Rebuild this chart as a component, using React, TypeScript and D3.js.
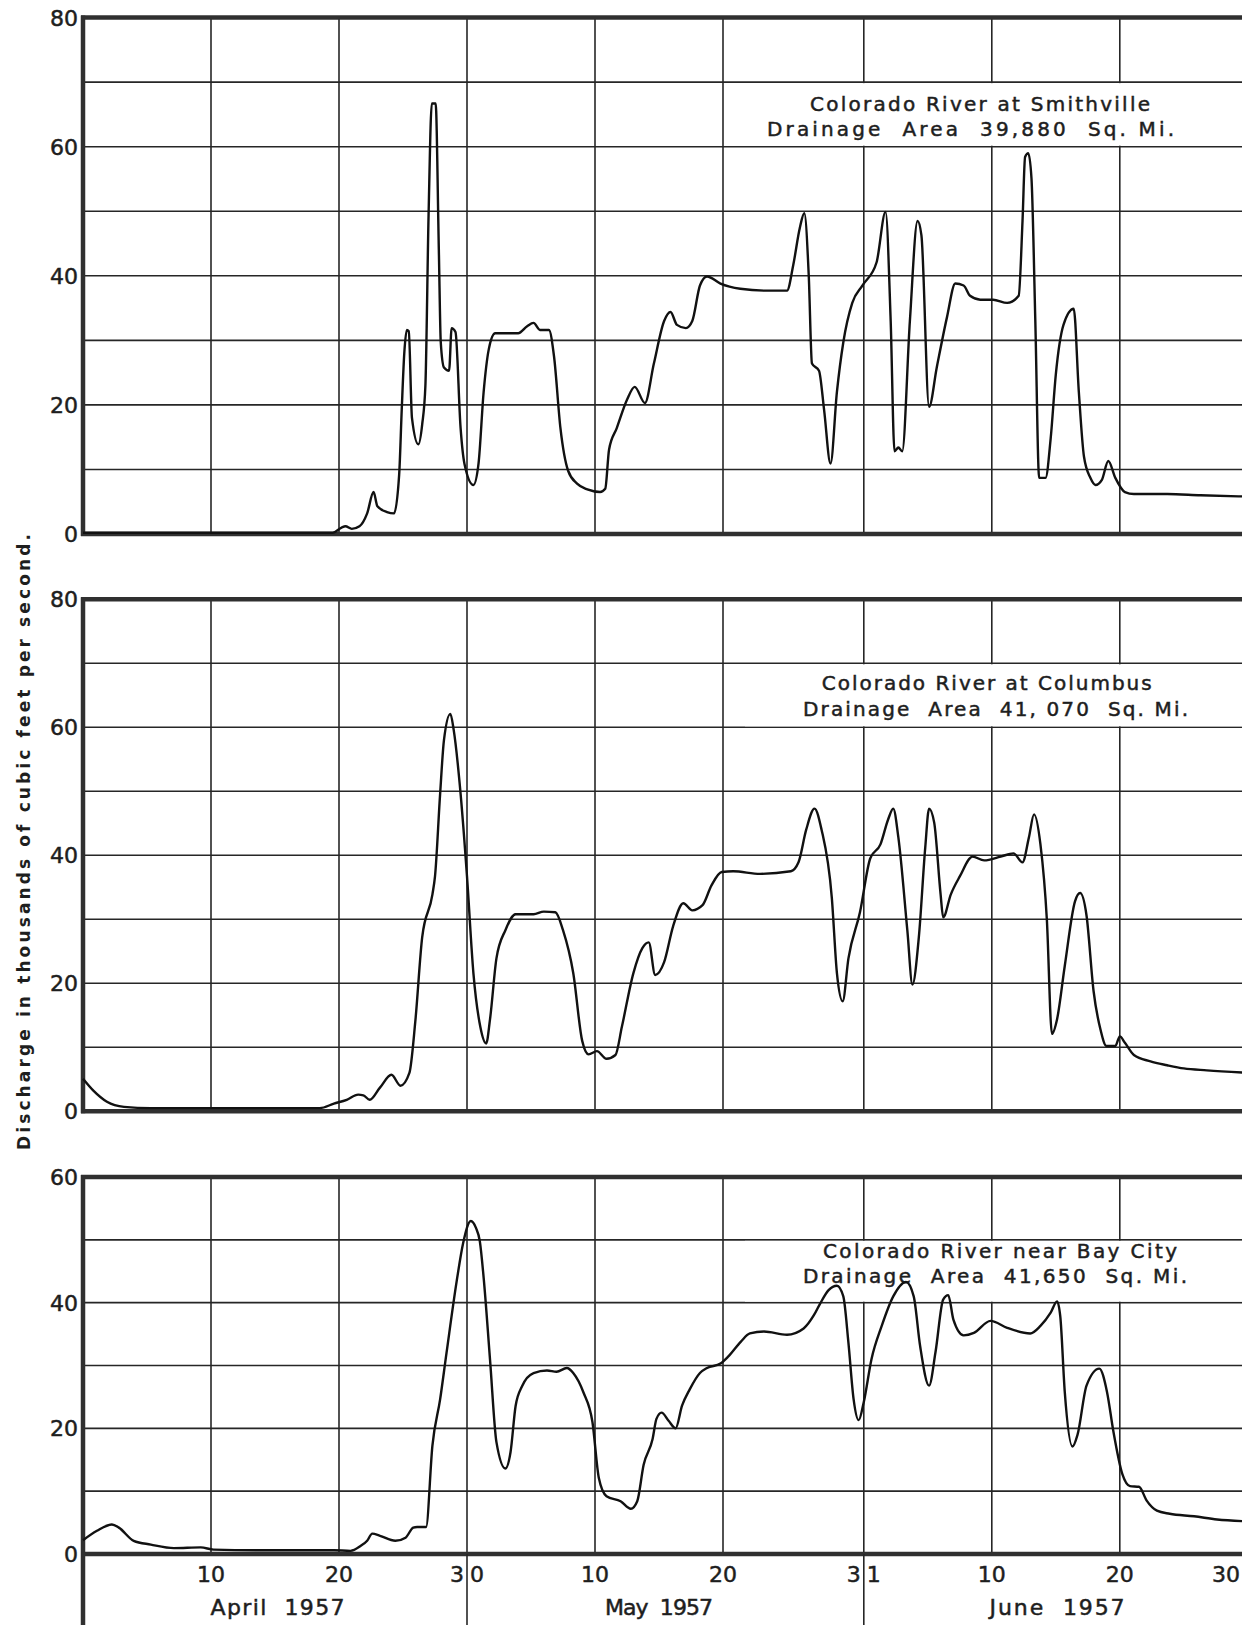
import React from "react";
import * as d3 from "d3";

// ---- Data (day index: April 1 = 1, May 1 = 31, June 1 = 62) ----
const smithvilleDays = [0, 5, 10, 15, 19.5, 20.2, 20.5, 21, 21.6, 22.2, 22.7, 23, 23.75, 24.3, 24.7, 24.9, 25.1, 25.3, 25.45, 25.7, 26.2, 26.5, 26.75, 27.0, 27.25, 27.55, 27.8, 27.95, 28.2, 28.6, 28.8, 29.1, 29.5, 29.8, 30.5, 30.9, 31.3, 31.7, 32.2, 34.0, 34.7, 35.2, 35.7, 36.4, 36.8, 37.3, 37.9, 38.6, 39.4, 40.4, 40.8, 41.1, 41.7, 42.5, 43.1, 43.9, 44.6, 45.4, 45.9, 46.4, 47.1, 47.6, 48.2, 48.75, 49.8, 51.35, 53.4, 55.0, 55.5, 56.0, 56.35, 56.7, 56.95, 57.5, 57.9, 58.4, 58.9, 59.4, 60.1, 60.9, 62.0, 62.7, 63.1, 63.4, 63.7, 64.0, 64.6, 65.2, 65.5, 66.1, 66.7, 67.5, 68.15, 68.8, 69.3, 70.1, 71.1, 72.2, 73.1, 73.4, 73.6, 73.85, 74.1, 74.4, 74.7, 75.2, 75.6, 76.0, 76.6, 77.4, 77.8, 78.2, 78.7, 79.1, 79.6, 80.1, 80.65, 81.4, 82.1, 84.7, 87.3, 91];
const smithvilleFlow = [0.2, 0.2, 0.2, 0.2, 0.2, 1.0, 1.2, 0.8, 1.2, 3.2, 6.5, 4.3, 3.4, 3.2, 9.2, 19.2, 28, 31.6, 31.4, 18, 13.9, 17, 23, 49.6, 66.7, 66.7, 44, 29.7, 25.8, 25.3, 31.9, 31.3, 16.4, 10.9, 7.6, 10.9, 22, 28.6, 31.1, 31.1, 32.2, 32.7, 31.6, 31.6, 27.5, 16.4, 9.8, 7.8, 6.9, 6.5, 7, 13.1, 16.4, 20.8, 22.8, 20.3, 26.4, 33, 34.4, 32.4, 31.9, 33, 38.5, 39.9, 38.8, 38, 37.7, 37.7, 41.8, 47.4, 49.7, 40, 26.4, 25.3, 19.2, 10.9, 22, 29.7, 35.8, 38.5, 42.1, 49.9, 33, 12.8, 13.4, 12.8, 33, 48.5, 46.3, 19.7, 25.8, 33.6, 38.8, 38.5, 36.9, 36.3, 36.3, 35.8, 36.9, 48.5, 58.4, 59, 55.1, 33, 8.7, 8.7, 14.8, 24.7, 32.4, 34.9, 22, 12, 8.7, 7.6, 8.4, 11.3, 8.7, 6.5, 6.2, 6.2, 6.0, 5.8];

const columbusDays = [0, 0.83, 1.87, 3.2, 5.3, 9.2, 14.4, 18.5, 19.6, 20.6, 21.5, 21.9, 22.4, 23.2, 24.1, 24.8, 25.5, 25.96, 26.5, 27.3, 27.5, 27.9, 28.2, 28.7, 28.96, 29.5, 30.0, 30.5, 31.04, 31.5, 31.8, 32.3, 33.0, 33.8, 35.2, 36.0, 36.9, 37.5, 38.3, 39.0, 39.5, 40.15, 40.9, 41.6, 42.1, 43.0, 43.7, 44.2, 44.7, 45.4, 46.1, 46.9, 47.6, 48.4, 49.1, 49.9, 50.8, 52.9, 55.3, 55.9, 56.5, 57.15, 57.7, 58.5, 58.9, 59.35, 59.8, 60.7, 61.5, 62.3, 62.9, 63.3, 63.7, 64.4, 64.8, 65.3, 65.8, 66.1, 66.5, 67.0, 67.2, 67.8, 68.5, 69.5, 70.4, 71.7, 72.7, 73.4, 73.9, 74.3, 74.8, 75.3, 75.7, 76.1, 76.7, 77.5, 77.9, 78.4, 78.95, 79.5, 79.95, 80.65, 81.0, 81.4, 82.1, 83.4, 84.7, 86, 87.8, 91];
const columbusFlow = [5.1, 3.2, 1.5, 0.7, 0.5, 0.5, 0.5, 0.5, 1.2, 1.8, 2.6, 2.5, 1.8, 3.7, 5.7, 4.0, 6.0, 14, 27.2, 33.9, 36.7, 49.6, 58, 62.1, 59.6, 49.6, 36.7, 21.6, 13.2, 10.6, 14.4, 23.9, 28.3, 30.8, 30.8, 31.2, 31.1, 28.3, 21.6, 11, 8.9, 9.4, 8.2, 8.8, 13.2, 21.6, 25.5, 26.4, 21.3, 23.3, 28.9, 32.5, 31.4, 32.2, 35.3, 37.4, 37.5, 37.1, 37.5, 38.9, 44, 47.3, 44, 33.4, 21.6, 17.2, 23.9, 31.1, 39.5, 41.7, 45.6, 47.3, 42.8, 28.3, 19.8, 27.2, 41.2, 47.3, 45.1, 33.9, 30.3, 33.9, 36.7, 39.8, 39.2, 39.8, 40.3, 38.9, 42.8, 46.4, 41.7, 30, 12.1, 14.4, 22.7, 32.8, 34.1, 30.6, 18.8, 12.7, 10.2, 10.2, 11.7, 10.7, 8.8, 7.8, 7.2, 6.7, 6.4, 6.0];

const bayCityDays = [0, 1.09, 2.26, 2.8, 3.96, 5.3, 7.1, 9.2, 10.2, 14.4, 19.6, 20.9, 21.7, 22.2, 22.6, 23.2, 24.4, 25.2, 25.8, 26.1, 26.8, 27.3, 27.9, 28.4, 29.2, 29.7, 30.3, 30.7, 31.0, 31.3, 31.8, 32.3, 33.0, 33.4, 33.8, 34.3, 35.2, 36.25, 37.0, 37.8, 38.3, 39.1, 39.8, 40.3, 40.9, 42.0, 42.8, 43.3, 43.8, 44.5, 44.8, 45.2, 45.75, 46.3, 46.8, 47.4, 48.2, 48.75, 49.8, 50.4, 51.4, 52.1, 53.2, 55.0, 56.3, 57.1, 57.6, 58.25, 58.9, 59.4, 59.8, 60.2, 60.6, 61.0, 61.6, 62.4, 63.3, 64.3, 64.9, 65.4, 66.1, 66.6, 67.2, 67.6, 68.0, 68.8, 69.6, 70.9, 72.2, 74.0, 74.8, 75.6, 76.1, 76.35, 76.7, 77.3, 77.7, 78.4, 79.4, 80.0, 80.5, 81.2, 81.8, 82.5, 83.1, 83.9, 84.9, 86.8, 88.6, 91];
const bayCityFlow = [2.2, 3.7, 4.7, 4.2, 2.1, 1.5, 0.94, 1.05, 0.7, 0.6, 0.6, 0.5, 1.3, 2.1, 3.25, 2.9, 2.1, 2.6, 4.2, 4.3, 4.3, 17.3, 24.6, 32, 43.5, 49.5, 53, 51.9, 49.8, 44, 30.9, 17.8, 13.6, 16.2, 23.6, 26.7, 28.8, 29.2, 29, 29.6, 28.8, 25.7, 21, 12.1, 9.2, 8.4, 7.2, 8.4, 14.2, 18.3, 21.5, 22.5, 21.2, 20, 23.6, 26.2, 28.8, 29.6, 30.3, 31.4, 33.8, 35.1, 35.4, 34.9, 35.9, 38, 39.9, 42, 42.7, 41, 33.6, 24.7, 21.3, 24.2, 31, 36.3, 41, 43.3, 41, 33.1, 26.8, 32.1, 40.5, 41.2, 37.3, 34.8, 35.2, 37.1, 36, 35.1, 36.3, 38.4, 40.2, 37.8, 25.8, 17.1, 19, 26.8, 29.5, 25.8, 19.5, 12.7, 10.8, 10.7, 8.5, 6.9, 6.4, 6.0, 5.5, 5.2];

const dayGridLines = [10, 20, 30, 40, 50, 61, 71, 81, 91];
const dayTickLabels = ["10", "20", "30", "10", "20", "31", "10", "20", "30"];
const dayTickLabelDays = [10, 20, 30, 40, 50, 61, 71, 81, 89.3];
const monthBoundaryDays = [30, 61, 91];
const monthNames = ["April  1957", "May  1957", "June  1957"];
const monthLabelDays = [15.2, 45, 76.1];
const monthLabelWidths = [134, 108, 135];

const yTicks80 = [0, 20, 40, 60, 80];
const yTicks60 = [0, 20, 40, 60];

const titles1 = ["Colorado River at Smithville", "Drainage  Area  39,880  Sq. Mi."];
const titles2 = ["Colorado River at Columbus", "Drainage  Area  41, 070  Sq. Mi."];
const titles3 = ["Colorado River near Bay City", "Drainage  Area  41,650  Sq. Mi."];

const yTitle = "Discharge in thousands of cubic feet per second.";

// ---- Layout ----
const W = 1242;
const H = 1625;
const FONT = "'DejaVu Sans', 'Liberation Sans', sans-serif";
const x = d3.scaleLinear().domain([0, 91]).range([83, 83 + 91 * 12.8]);

type PanelDef = {
  days: number[];
  flow: number[];
  yMax: number;
  top: number;
  bottom: number;
  ticks: number[];
  titles: string[];
  titleBox: [number, number];
  titleLines: { x: number; len: number; y: number }[];
};

const panels: PanelDef[] = [
  {
    days: smithvilleDays, flow: smithvilleFlow, yMax: 80, top: 17.6, bottom: 534, ticks: yTicks80,
    titles: titles1, titleBox: [70, 60],
    titleLines: [{ x: 810, len: 340, y: 110.5 }, { x: 767, len: 407, y: 135.5 }],
  },
  {
    days: columbusDays, flow: columbusFlow, yMax: 80, top: 599.3, bottom: 1111.3, ticks: yTicks80,
    titles: titles2, titleBox: [70, 60],
    titleLines: [{ x: 821.7, len: 330, y: 690 }, { x: 803, len: 385, y: 715.5 }],
  },
  {
    days: bayCityDays, flow: bayCityFlow, yMax: 60, top: 1177, bottom: 1554, ticks: yTicks60,
    titles: titles3, titleBox: [50, 40],
    titleLines: [{ x: 823, len: 354, y: 1258 }, { x: 803, len: 384, y: 1283 }],
  },
];

const GRID = "#262626";
const FRAME = "#303030";
const INK = "#1e1e1e";

function Panel({ p, isLast }: { p: PanelDef; isLast: boolean }) {
  const y = d3.scaleLinear().domain([0, p.yMax]).range([p.bottom, p.top]);
  const pts = p.days.map((d, i) => [d, p.flow[i]] as [number, number]);
  const line = d3
    .line<[number, number]>()
    .x((d) => x(d[0]))
    .y((d) => y(d[1]))
    .curve(d3.curveMonotoneX);
  const gridVals = d3.range(10, p.yMax, 10);
  const xL = x(0);
  const xR = W + 20;
  return (
    <g>
      {gridVals.map((v) => (
        <line key={"h" + v} x1={xL} x2={xR} y1={y(v)} y2={y(v)} stroke={GRID} strokeWidth={1.6} />
      ))}
      {dayGridLines.map((d) => (
        <line key={"v" + d} x1={x(d)} x2={x(d)} y1={y(p.yMax)} y2={y(0)} stroke={GRID} strokeWidth={1.6} />
      ))}
      <rect
        x={745}
        y={y(p.titleBox[0]) + 1}
        width={W - 745 + 20}
        height={y(p.titleBox[1]) - y(p.titleBox[0]) - 2}
        fill="#fff"
      />
      {p.titles.map((t, i) => (
        <text
          key={"t" + i}
          x={p.titleLines[i].x}
          y={p.titleLines[i].y}
          textLength={p.titleLines[i].len}
          lengthAdjust="spacing"
          fontFamily={FONT}
          fontSize={20}
          fill={INK}
          stroke={INK}
          strokeWidth={0.5}
          style={{ whiteSpace: "pre" }}
        >
          {t}
        </text>
      ))}
      <line x1={xL - 2} x2={xR} y1={y(p.yMax)} y2={y(p.yMax)} stroke={FRAME} strokeWidth={4.5} />
      <line x1={xL - 2} x2={xR} y1={y(0)} y2={y(0)} stroke={FRAME} strokeWidth={4.5} />
      <line x1={xL} x2={xL} y1={y(p.yMax) - 2} y2={isLast ? H : y(0) + 2} stroke={FRAME} strokeWidth={4.5} />
      <path d={line(pts) || ""} fill="none" stroke="#111" strokeWidth={2.4} strokeLinejoin="round" />
      {p.ticks.map((t) => (
        <text
          key={"yt" + t}
          x={78}
          y={y(t)}
          dy="0.36em"
          textAnchor="end"
          fontFamily={FONT}
          fontSize={22}
          fill={INK}
          stroke={INK}
          strokeWidth={0.5}
        >
          {t}
        </text>
      ))}
    </g>
  );
}

export default function App() {
  const last = panels[2];
  const yBottom = last.bottom;
  const labelProps = {
    fontFamily: FONT,
    fontSize: 22,
    fill: INK,
    stroke: INK,
    strokeWidth: 0.5,
  };
  return (
    <svg
      width={W}
      height={H}
      viewBox={`0 0 ${W} ${H}`}
      style={{ position: "absolute", left: 0, top: 0, background: "#fff", display: "block" }}
    >
      <rect x={0} y={0} width={W} height={H} fill="#fff" />
      {panels.map((p, i) => (
        <Panel key={i} p={p} isLast={i === panels.length - 1} />
      ))}
      {monthBoundaryDays.map((d) => (
        <line key={"mb" + d} x1={x(d)} x2={x(d)} y1={yBottom} y2={H} stroke={GRID} strokeWidth={1.6} />
      ))}
      {dayTickLabelDays.map((d, i) => {
        const lbl = dayTickLabels[i];
        const isBoundary = d === 30 || d === 61;
        if (isBoundary) {
          return (
            <g key={"xl" + i}>
              <text x={x(d) - 3} y={1582} textAnchor="end" {...labelProps}>
                {lbl[0]}
              </text>
              <text x={x(d) + 3} y={1582} textAnchor="start" {...labelProps}>
                {lbl[1]}
              </text>
            </g>
          );
        }
        return (
          <text key={"xl" + i} x={x(d)} y={1582} textAnchor="middle" {...labelProps}>
            {lbl}
          </text>
        );
      })}
      {monthNames.map((m, i) => (
        <text
          key={"mn" + i}
          x={x(monthLabelDays[i]) - monthLabelWidths[i] / 2}
          y={1615}
          textLength={monthLabelWidths[i]}
          lengthAdjust="spacing"
          {...labelProps}
          style={{ whiteSpace: "pre" }}
        >
          {m}
        </text>
      ))}
      <text
        transform={`translate(30, 842) rotate(-90)`}
        textAnchor="middle"
        textLength={616}
        lengthAdjust="spacing"
        fontFamily={FONT}
        fontSize={17}
        fontWeight="bold"
        fill={INK}
      >
        {yTitle}
      </text>
    </svg>
  );
}
